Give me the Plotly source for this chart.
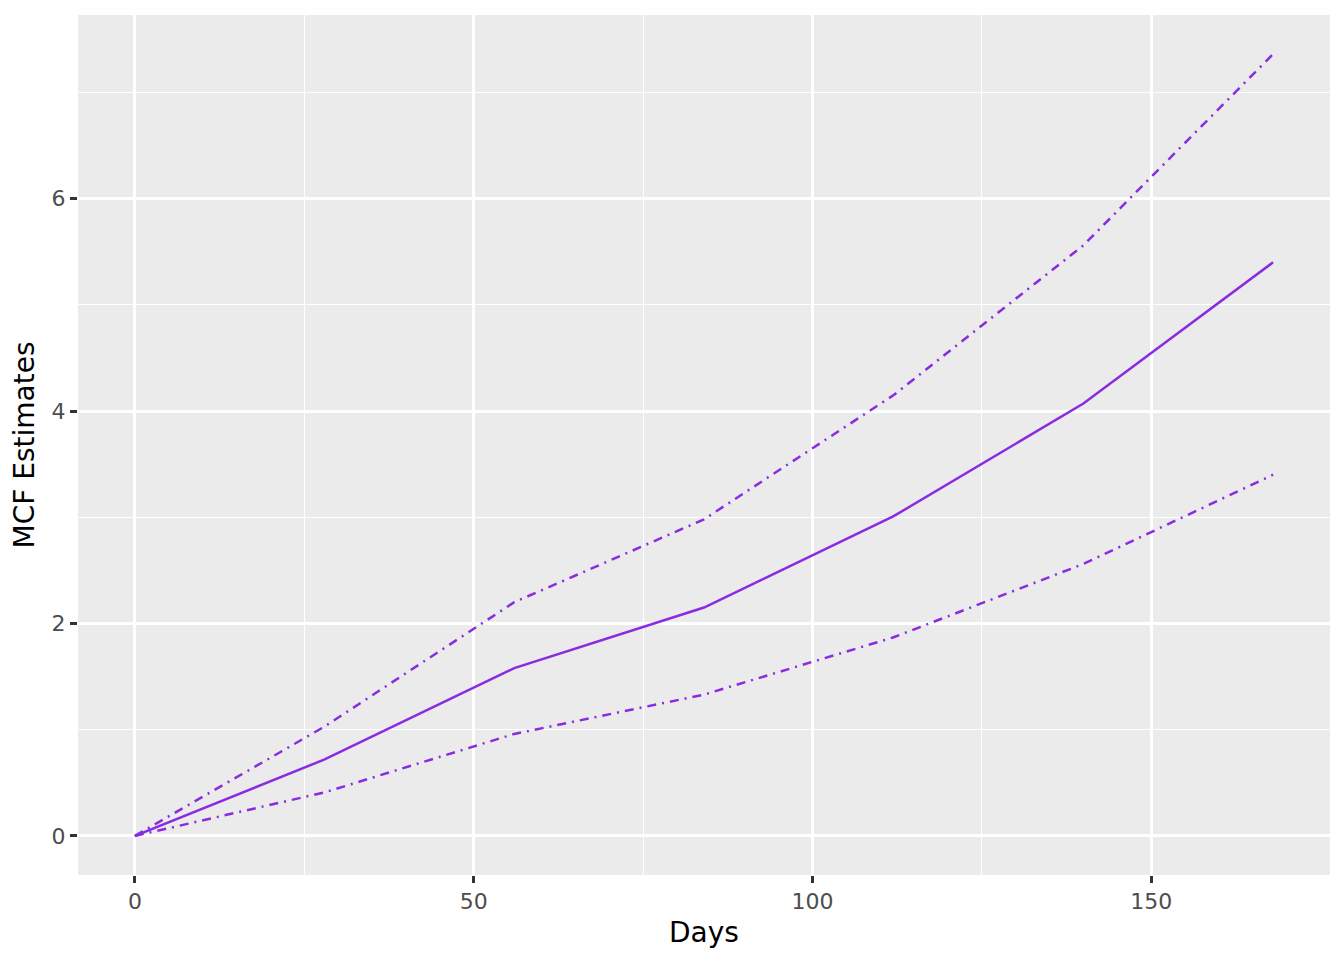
import plotly.graph_objects as go

# Estimativas MCF por dia
days = [0, 28, 56, 84, 112, 140, 168]
mcf = [0.0, 0.72, 1.58, 2.15, 3.01, 4.07, 5.40]
upper = [0.0, 1.03, 2.20, 2.98, 4.15, 5.56, 7.36]
lower = [0.0, 0.41, 0.96, 1.33, 1.87, 2.56, 3.40]

x_ticks = [0, 50, 100, 150]
y_ticks = [0, 2, 4, 6]

color = "#8A2BE2"
dotdash = "9px,6px,2px,6px"

fig = go.Figure()
fig.add_trace(go.Scatter(x=days, y=mcf, mode="lines",
                         line=dict(color=color, width=2.5), showlegend=False))
fig.add_trace(go.Scatter(x=days, y=upper, mode="lines",
                         line=dict(color=color, width=2.5, dash=dotdash), showlegend=False))
fig.add_trace(go.Scatter(x=days, y=lower, mode="lines",
                         line=dict(color=color, width=2.5, dash=dotdash), showlegend=False))

# a pagina tem 8px de margem no body, por isso a figura fica um pouco menor
fig.update_layout(
    width=1336,
    height=952,
    paper_bgcolor="white",
    plot_bgcolor="#EBEBEB",
    margin=dict(l=70, r=14, t=7, b=85),
    font=dict(family="DejaVu Sans", size=22, color="#4D4D4D"),
    xaxis=dict(
        range=[-8.4, 176.4],
        tickvals=x_ticks,
        showgrid=True, gridcolor="white", gridwidth=2.7,
        minor=dict(tickvals=[25, 75, 125], showgrid=True, gridcolor="white", gridwidth=1.4),
        zeroline=False,
        ticks="outside", ticklen=7, tickwidth=2.5, tickcolor="#333333",
        title=dict(text="Days", font=dict(size=28, color="black"), standoff=8),
    ),
    yaxis=dict(
        range=[-0.368, 7.728],
        tickvals=y_ticks,
        showgrid=True, gridcolor="white", gridwidth=2.7,
        minor=dict(tickvals=[1, 3, 5, 7], showgrid=True, gridcolor="white", gridwidth=1.4),
        zeroline=False,
        ticks="outside", ticklen=7, tickwidth=2.5, tickcolor="#333333",
        title=dict(text="MCF Estimates", font=dict(size=28, color="black"), standoff=8),
    ),
)

fig.write_html("out.html")
